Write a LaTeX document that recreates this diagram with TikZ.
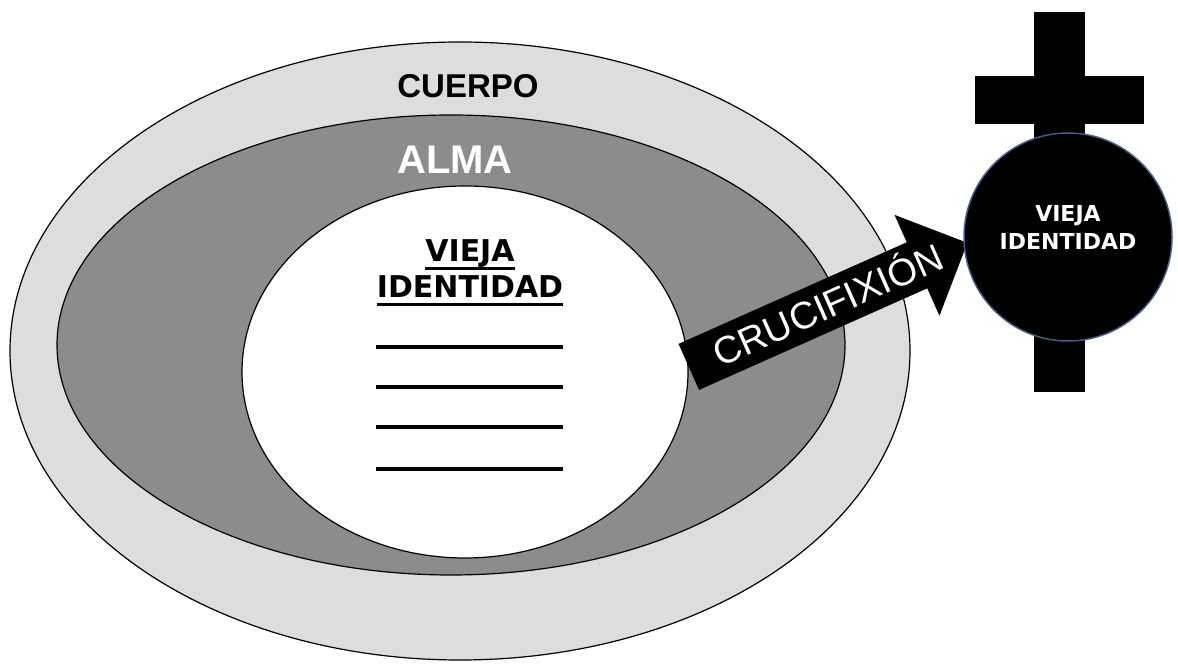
\documentclass[tikz,border=0pt]{standalone}
\usepackage{fontspec}
\setmainfont{Liberation Sans}
\newfontfamily\viejafont{DejaVu Sans}
\usetikzlibrary{shapes.geometric,shapes.arrows,positioning}
\definecolor{cuerpogris}{RGB}{221,221,221}
\definecolor{almagris}{RGB}{140,140,140}
\definecolor{bordeazul}{RGB}{70,90,130}
\newcommand{\subrayar}[1]{\setbox0\hbox{#1}\rlap{\rule[-8pt]{\wd0}{2.5pt}}\box0}

\begin{document}
\begin{tikzpicture}[x=1pt,y=1pt,
   capa/.style={draw,ellipse,line width=1.2pt,inner sep=0pt},
   etiqueta/.style={font=\bfseries\fontsize{33}{36}\selectfont,inner sep=0pt},
   raya/.style={line width=4pt}]
\useasboundingbox (0,0) rectangle (1178,671);
\node[capa,fill=cuerpogris,minimum width=900pt,minimum height=618pt] (cuerpo) at (460,320) {};
\node[capa,fill=almagris,minimum width=788pt,minimum height=460pt] (alma) at (451,326) {};
\node[capa,fill=white,minimum width=446pt,minimum height=372pt] (vieja) at (465,299) {};
\node[etiqueta] (tcuerpo) at (468,585) {CUERPO};
\node[etiqueta,text=white,font=\bfseries\fontsize{40}{44}\selectfont] (talma) at (455,511) {ALMA};
\node[font=\viejafont\bfseries\fontsize{30}{36}\selectfont,align=center] (tvieja) at (470,398)
   {\subrayar{VIEJA}\\\subrayar{IDENTIDAD}};
\foreach \yy in {324,284,244,202}
   \draw[raya] (376,\yy) -- (563,\yy);
\node[single arrow,fill=black,rotate=24,anchor=tail,minimum height=305pt,
   text height=25pt,text depth=25pt,inner sep=0pt,single arrow head extend=30pt]
   (flecha) at ([yshift=5pt]vieja.east) {};
\path (flecha.tail) -- node[sloped,text=white,text height=27pt,text depth=0pt,
   font=\fontsize{38}{38}\selectfont] (tcruz) {CRUCIFIXIÓN} (flecha.tip);
\fill (1034,279) rectangle (1085,659);
\fill (975,547) rectangle (1144,595);
\node[circle,fill=black,draw=bordeazul,line width=1.5pt,minimum size=208pt,inner sep=0pt]
   (muerta) at (1068,434) {};
\node[font=\viejafont\bfseries\fontsize{22}{28}\selectfont,text=white,align=center]
   (tmuerta) at ([yshift=10pt]muerta.center) {VIEJA\\IDENTIDAD};
\end{tikzpicture}
\end{document}
